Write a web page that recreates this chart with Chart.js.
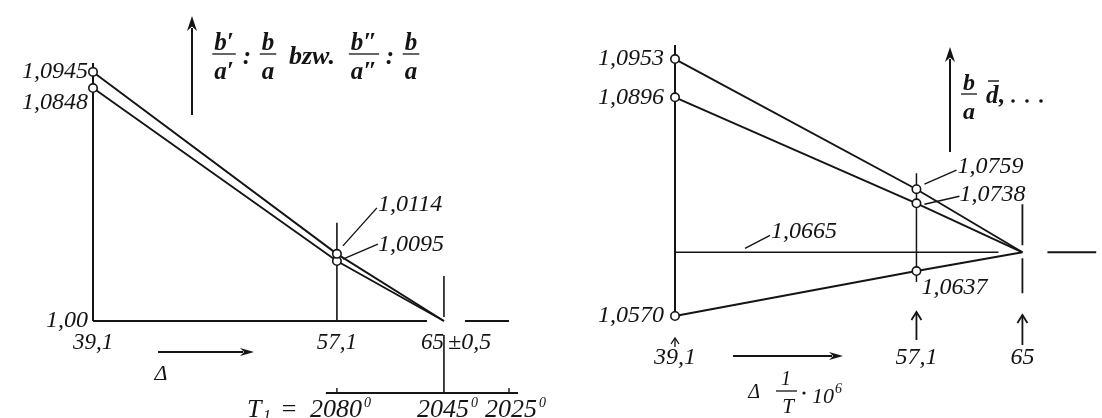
<!DOCTYPE html>
<html><head><meta charset="utf-8">
<script src="https://cdn.jsdelivr.net/npm/chart.js@4.4.1/dist/chart.umd.min.js"></script>
<style>
html,body{margin:0;padding:0;background:#fff;}
#wrap{position:relative;width:1102px;height:418px;overflow:hidden;background:#fff;}
#left{position:absolute;left:0;top:0;}
#right{position:absolute;left:560px;top:0;}
</style></head><body>
<div id="wrap"><canvas id="left" width="560" height="418"></canvas><canvas id="right" width="542" height="418"></canvas></div>
<script>
// ---- data: x = Δ(1/T)·10^6 ----
const deltaX = [39.1, 57.1, 65];
// left panel: b'/a' : b/a  bzw.  b''/a'' : b/a
const leftUpper = [1.0945, 1.0114, 1.00];
const leftLower = [1.0848, 1.0095, 1.00];
const leftYTicks = [1.00, 1.0848, 1.0945];
const leftYLabels = ['1,00', '1,0848', '1,0945'];
const leftXTicks = [39.1, 57.1, 65];
const leftXLabels = ['39,1', '57,1', '65'];
const leftPointLabels = ['1,0114', '1,0095'];
const tempTicks = [57.1, 65, 69.8];
const tempLabels = ['2080', '2045', '2025'];
// right panel: b/a, d̄, ...
const rightUpper = [1.0953, 1.0759, 1.0665];
const rightMiddle = [1.0896, 1.0738, 1.0665];
const rightLower = [1.0570, 1.0637, 1.0665];
const rightRef = 1.0665;
const rightRefLabel = '1,0665';
const rightYTicks = [1.0570, 1.0896, 1.0953];
const rightYLabels = ['1,0570', '1,0896', '1,0953'];
const rightXTicks = [39.1, 57.1, 65];
const rightXLabels = ['39,1', '57,1', '65'];
const rightPointLabels = ['1,0759', '1,0738', '1,0637'];

// ---- style ----
const INK = '#141414';
const SERIF = "'Liberation Serif','DejaVu Serif',serif";

// power-compressed scale (the left panel is drawn schematically, not to a linear scale)
class PowScale extends Chart.LinearScale {
  static id = 'pow';
  static defaults = {};
  getPixelForValue(value) {
    if (value === null || value === undefined || isNaN(value)) return NaN;
    const p = this.options.exponent || 1;
    const t = (value - this._startValue) / this._valueRange;
    return this.getPixelForDecimal(t <= 0 ? t : Math.pow(t, p));
  }
  getValueForPixel(pixel) {
    const p = this.options.exponent || 1;
    const t = this.getDecimalForPixel(pixel);
    return this._startValue + (t <= 0 ? t : Math.pow(t, 1 / p)) * this._valueRange;
  }
}
Chart.register(PowScale);

function pts(ys) { return deltaX.map((x, i) => ({x, y: ys[i]})); }
function lineDs(ys) {
  return {data: pts(ys), showLine: true, borderColor: INK, borderWidth: 1.9, tension: 0,
    pointRadius: c => c.dataIndex < 2 ? 4.2 : 0, pointHoverRadius: 0,
    pointBackgroundColor: '#fff', pointBorderColor: INK, pointBorderWidth: 1.6, clip: false};
}
function tf(size) { return {family: SERIF, style: 'italic', size, lineHeight: 1.2}; }

function seg(ctx, x1, y1, x2, y2, w) {
  ctx.lineWidth = w || 1.6; ctx.beginPath(); ctx.moveTo(x1, y1); ctx.lineTo(x2, y2); ctx.stroke();
}
function arrowFilled(ctx, x1, y1, x2, y2, len, half, w) {
  const dx = x2 - x1, dy = y2 - y1, L = Math.hypot(dx, dy), ux = dx / L, uy = dy / L;
  const bx = x2 - ux * len, by = y2 - uy * len, px = -uy, py = ux;
  seg(ctx, x1, y1, bx + ux * 3, by + uy * 3, w);
  ctx.beginPath(); ctx.moveTo(x2, y2);
  ctx.lineTo(bx + px * half, by + py * half);
  ctx.lineTo(bx + ux * len * 0.3, by + uy * len * 0.3);
  ctx.lineTo(bx - px * half, by - py * half);
  ctx.closePath(); ctx.fill();
}
function arrowOpen(ctx, x1, y1, x2, y2, len, half, w) {
  const dx = x2 - x1, dy = y2 - y1, L = Math.hypot(dx, dy), ux = dx / L, uy = dy / L;
  const bx = x2 - ux * len, by = y2 - uy * len, px = -uy, py = ux;
  seg(ctx, x1, y1, x2, y2, w);
  ctx.lineWidth = w; ctx.beginPath();
  ctx.moveTo(bx + px * half, by + py * half); ctx.lineTo(x2, y2); ctx.lineTo(bx - px * half, by - py * half);
  ctx.stroke();
}
function txt(ctx, s, x, y, font, align, base) {
  ctx.font = font; ctx.textAlign = align || 'left'; ctx.textBaseline = base || 'alphabetic';
  ctx.fillText(s, x, y);
  return ctx.measureText(s).width;
}
function frac(ctx, cx, barY, num, den, font) {
  ctx.font = font;
  const w = Math.max(ctx.measureText(num).width, ctx.measureText(den).width) + 4;
  txt(ctx, num, cx, barY - 4, font, 'center');
  txt(ctx, den, cx, barY + 25, font, 'center');
  seg(ctx, cx - w / 2, barY, cx + w / 2, barY, 1.3);
}

const IT = s => `italic ${s}px ${SERIF}`;
const BI = s => `bold italic ${s}px ${SERIF}`;

// ---- left decorations ----
const leftDeco = {
  id: 'leftDeco',
  beforeDatasetsDraw(chart) {
    const {ctx, chartArea: a} = chart, x = chart.scales.x, y = chart.scales.y;
    const X = v => x.getPixelForValue(v), Y = v => y.getPixelForValue(v);
    const y0 = Y(leftYTicks[0]);
    ctx.save(); ctx.strokeStyle = INK; ctx.fillStyle = INK;
    seg(ctx, a.left, a.top, a.left, y0, 2);                       // y axis
    seg(ctx, a.left, y0, X(deltaX[2]) - 17, y0, 2);               // baseline
    seg(ctx, X(deltaX[2]) + 21, y0, X(tempTicks[2]), y0, 2);
    seg(ctx, X(deltaX[1]), Y(leftUpper[1]) - 31, X(deltaX[1]), y0, 1.6);   // 57,1
    seg(ctx, X(deltaX[2]), y0 - 45, X(deltaX[2]), y0 - 4, 1.6);            // 65
    seg(ctx, X(deltaX[2]), y0 + 14, X(deltaX[2]), y0 + 72, 1.6);
    const yT = y0 + 72;                                                     // T1 axis
    seg(ctx, X(tempTicks[0]) - 11, yT, X(tempTicks[2]) + 9, yT, 2);
    seg(ctx, X(tempTicks[0]), yT - 5, X(tempTicks[0]), yT, 1.4);
    seg(ctx, X(tempTicks[2]), yT - 5, X(tempTicks[2]), yT, 1.4);
    // leaders
    const P = [X(deltaX[1]), Y(leftUpper[1])], Q = [X(deltaX[1]), Y(leftLower[1])];
    seg(ctx, P[0] + 6, P[1] - 8, P[0] + 40, P[1] - 46, 1.4);
    seg(ctx, Q[0] + 6, Q[1] - 2, Q[0] + 41, Q[1] - 17, 1.4);
    ctx.restore();
  },
  afterDraw(chart) {
    const {ctx, chartArea: a} = chart, x = chart.scales.x, y = chart.scales.y;
    const X = v => x.getPixelForValue(v), Y = v => y.getPixelForValue(v);
    const y0 = Y(leftYTicks[0]);
    ctx.save(); ctx.strokeStyle = INK; ctx.fillStyle = INK;
    const P = [X(deltaX[1]), Y(leftUpper[1])], Q = [X(deltaX[1]), Y(leftLower[1])];
    txt(ctx, leftPointLabels[0], P[0] + 41, P[1] - 49, IT(24), 'left', 'middle');
    txt(ctx, leftPointLabels[1], Q[0] + 41, Q[1] - 16, IT(24), 'left', 'middle');
    // ±0,5
    txt(ctx, '\u00B10,5', X(deltaX[2]) + 4, y0 + 8 + 0.6 * 23, IT(24), 'left', 'middle');
    // Δ arrow
    arrowFilled(ctx, 158, 352, 254, 352, 14, 4, 1.8);
    txt(ctx, '\u0394', 161, 380, IT(22), 'center');
    // y arrow + title
    arrowFilled(ctx, 192, 115, 192, 16, 15, 5, 2);
    const f = BI(25);
    frac(ctx, 224, 54, 'b\u2032', 'a\u2032', f);
    txt(ctx, ':', 247, 64, f, 'center');
    frac(ctx, 268, 54, 'b', 'a', f);
    txt(ctx, 'bzw.', 289, 64, BI(26), 'left');
    frac(ctx, 364, 54, 'b\u2033', 'a\u2033', f);
    txt(ctx, ':', 390, 64, f, 'center');
    frac(ctx, 411, 54, 'b', 'a', f);
    // T1 labels
    const yb = y0 + 96;
    txt(ctx, 'T', 247, yb, IT(26), 'left');
    txt(ctx, '1', 263, yb + 4, IT(16), 'left');
    txt(ctx, '=', 289, yb, `26px ${SERIF}`, 'center');
    let prevEnd = 0;
    tempTicks.forEach((t, i) => {
      const xs = Math.max(X(t) - 27, prevEnd + 6);
      const w = txt(ctx, tempLabels[i], xs, yb, IT(26), 'left');
      txt(ctx, '0', xs + w + 2, yb - 10, IT(14), 'left');
      prevEnd = xs + w + 10;
    });
    ctx.restore();
  }
};

// ---- right decorations ----
const OFF = 560;
const rightDeco = {
  id: 'rightDeco',
  beforeDatasetsDraw(chart) {
    const {ctx, chartArea: a} = chart, x = chart.scales.x, y = chart.scales.y;
    const X = v => x.getPixelForValue(v), Y = v => y.getPixelForValue(v);
    const yR = Y(rightRef);
    ctx.save(); ctx.strokeStyle = INK; ctx.fillStyle = INK;
    seg(ctx, a.left, a.top, a.left, Y(rightLower[0]), 2);       // y axis
    seg(ctx, a.left, yR, X(deltaX[2]) - 24, yR, 1.6);            // 1,0665 level
    seg(ctx, X(deltaX[2]) + 25, yR, a.right, yR, 1.8);
    seg(ctx, X(deltaX[1]), Y(rightUpper[1]) - 16, X(deltaX[1]), Y(rightLower[1]) + 11, 1.5);
    seg(ctx, X(deltaX[2]), yR - 48, X(deltaX[2]), yR - 7, 1.8);
    seg(ctx, X(deltaX[2]), yR + 6, X(deltaX[2]), yR + 41, 1.8);
    const P1 = [X(deltaX[1]), Y(rightUpper[1])], P2 = [X(deltaX[1]), Y(rightMiddle[1])];
    seg(ctx, P1[0] + 8, P1[1] - 5, P1[0] + 40, P1[1] - 19, 1.4);
    seg(ctx, P2[0] + 8, P2[1] + 1, P2[0] + 43, P2[1] - 7, 1.4);
    seg(ctx, a.left + 70, yR - 4, a.left + 95, yR - 17, 1.4);
    ctx.restore();
  },
  afterDraw(chart) {
    const {ctx, chartArea: a} = chart, x = chart.scales.x, y = chart.scales.y;
    const X = v => x.getPixelForValue(v), Y = v => y.getPixelForValue(v);
    const yR = Y(rightRef);
    ctx.save(); ctx.strokeStyle = INK; ctx.fillStyle = INK;
    const P1 = [X(deltaX[1]), Y(rightUpper[1])], P2 = [X(deltaX[1]), Y(rightMiddle[1])], P3 = [X(deltaX[1]), Y(rightLower[1])];
    txt(ctx, rightPointLabels[0], P1[0] + 41, P1[1] - 23, IT(24), 'left', 'middle');
    txt(ctx, rightPointLabels[1], P2[0] + 43, P2[1] - 9, IT(24), 'left', 'middle');
    txt(ctx, rightPointLabels[2], P3[0] + 5, P3[1] + 17, IT(24), 'left', 'middle');
    txt(ctx, rightRefLabel, a.left + 96, yR - 21, IT(24), 'left', 'middle');
    // arrows above x labels
    arrowOpen(ctx, X(deltaX[0]), a.bottom + 31, X(deltaX[0]), a.bottom + 22, 6, 4, 1.3);
    arrowOpen(ctx, X(deltaX[1]), a.bottom + 24, X(deltaX[1]), a.bottom - 4, 8, 5, 1.8);
    arrowOpen(ctx, X(deltaX[2]), a.bottom + 29, X(deltaX[2]), a.bottom - 1, 8, 5, 1.8);
    ctx.translate(-OFF, 0);
    // x arrow and label
    arrowFilled(ctx, 733, 356, 843, 356, 14, 4, 1.8);
    txt(ctx, '\u0394', 754, 398, IT(20), 'center');
    txt(ctx, '1', 786, 385, IT(20), 'center');
    seg(ctx, 776, 391, 797, 391, 1.3);
    txt(ctx, 'T', 788, 413, IT(21), 'center');
    ctx.beginPath(); ctx.arc(804, 393, 1.6, 0, Math.PI * 2); ctx.fill();
    const w10 = txt(ctx, '10', 812, 403, IT(22), 'left');
    txt(ctx, '6', 812 + w10 + 1, 393, IT(14), 'left');
    // y arrow + title
    arrowFilled(ctx, 950, 152, 950, 47, 15, 5, 2);
    frac(ctx, 969, 94, 'b', 'a', BI(24));
    txt(ctx, 'd', 986, 103, BI(25), 'left');
    seg(ctx, 988, 81, 999, 81, 1.4);
    txt(ctx, ',', 999, 103, BI(25), 'left');
    [1013, 1027, 1041].forEach(px => { ctx.beginPath(); ctx.arc(px, 101, 1.8, 0, Math.PI * 2); ctx.fill(); });
    ctx.restore();
  }
};

const common = {
  responsive: false, animation: false, events: [],
  plugins: {legend: {display: false}, tooltip: {enabled: false}}
};

new Chart(document.getElementById('left'), {
  type: 'scatter',
  data: {datasets: [lineDs(leftUpper), lineDs(leftLower)]},
  options: Object.assign({}, common, {
    layout: {padding: {top: 63, right: 30, bottom: 0, left: 0}},
    scales: {
      x: {type: 'linear', min: 39.1, max: 71.35,
        grid: {display: false, drawTicks: false}, border: {display: false},
        afterBuildTicks: s => { s.ticks = leftXTicks.map(v => ({value: v})); },
        afterFit: s => { s.height = 97; },
        ticks: {autoSkip: false, maxRotation: 0, minRotation: 0, padding: 8, color: INK, font: tf(23),
          callback: (v, i) => i === 2 ? leftXLabels[i] + '\u2003' : leftXLabels[i]}},
      y: {type: 'pow', exponent: 0.62, min: 1.00, max: 1.10,
        grid: {display: false, drawTicks: false}, border: {display: false},
        afterBuildTicks: s => { s.ticks = leftYTicks.map(v => ({value: v})); },
        afterFit: s => { s.width = 93; },
        ticks: {autoSkip: false, padding: 5, color: INK, font: tf(24),
          callback: (v, i) => i === 1 ? ['', leftYLabels[i]] : leftYLabels[i]}}
    }
  }),
  plugins: [leftDeco]
});

new Chart(document.getElementById('right'), {
  type: 'scatter',
  data: {datasets: [lineDs(rightUpper), lineDs(rightMiddle), lineDs(rightLower)]},
  options: Object.assign({}, common, {
    layout: {padding: {top: 45, right: 0, bottom: 0, left: 0}},
    scales: {
      x: {type: 'linear', min: 39.1, max: 70.5,
        grid: {display: false, drawTicks: false}, border: {display: false},
        afterBuildTicks: s => { s.ticks = rightXTicks.map(v => ({value: v})); },
        afterFit: s => { s.height = 102; },
        ticks: {autoSkip: false, maxRotation: 0, minRotation: 0, padding: 27, color: INK, font: tf(24),
          callback: (v, i) => rightXLabels[i]}},
      y: {type: 'linear', min: 1.0570, max: 1.0974,
        grid: {display: false, drawTicks: false}, border: {display: false},
        afterBuildTicks: s => { s.ticks = rightYTicks.map(v => ({value: v})); },
        afterFit: s => { s.width = 115; },
        ticks: {autoSkip: false, padding: 11, color: INK, font: tf(24), callback: (v, i) => rightYLabels[i]}}
    }
  }),
  plugins: [rightDeco]
});
</script>
</body></html>
